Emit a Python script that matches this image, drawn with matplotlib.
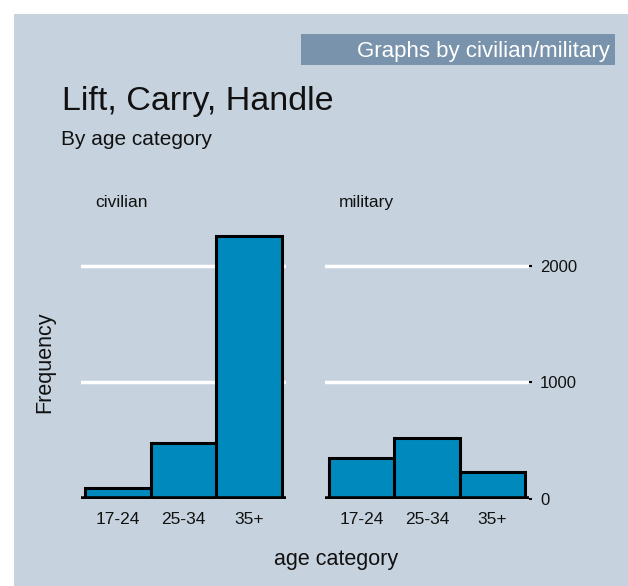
import matplotlib
matplotlib.use("Agg")
import matplotlib.pyplot as plt
from matplotlib.patches import Rectangle

categories = ["17-24", "25-34", "35+"]
civilian = [90, 480, 2255]
military = [350, 520, 235]
panels = ["civilian", "military"]
yticks = [0, 1000, 2000]

W, H = 628, 586
bg = "#C6D3DF"
bar_color = "#0089BD"
plt.rcParams['font.family'] = ['Liberation Sans', 'DejaVu Sans']

fig = plt.figure(figsize=(W / 100, H / 100), dpi=100)
fig.patch.set_facecolor("white")
fig.add_artist(Rectangle((14 / W, 0), 1 - 14 / W, 1 - 14 / H, transform=fig.transFigure,
                         facecolor=bg, edgecolor="none", zorder=0))
fig.add_artist(Rectangle((301 / W, 1 - 65 / H), 314 / W, 31 / H, transform=fig.transFigure,
                         facecolor="#7A93AC", edgecolor="none", zorder=1))
fig.text(610 / W, 1 - 57 / H, "Graphs by civilian/military", ha="right", va="baseline",
         color="white", fontsize=16)
fig.text(62 / W, 1 - 110 / H, "Lift, Carry, Handle", ha="left", va="baseline",
         fontsize=24.5, color="#111111")
fig.text(61 / W, 1 - 145 / H, "By age category", ha="left", va="baseline",
         fontsize=15, color="#111111")
fig.text(45 / W, 1 - 362 / H, "Frequency", ha="center", va="center", rotation=90,
         fontsize=15.5, color="#111111")
fig.text(336 / W, 1 - 559 / H, "age category", ha="center", va="center",
         fontsize=15.5, color="#111111")

ymax = 2400
y0 = 499
pxu = 0.1167
top = y0 - ymax * pxu
boxes = [(81, 286), (325, 529)]
for i, (name, vals) in enumerate(zip(panels, [civilian, military])):
    l, r = boxes[i]
    ax = fig.add_axes([l / W, 1 - y0 / H, (r - l) / W, (y0 - top) / H])
    ax.set_facecolor("none")
    x = list(range(len(categories)))
    for yt in yticks[1:]:
        ax.axhline(yt, color="white", lw=2.5, zorder=1)
    ax.bar(x, vals, width=1.0, color=bar_color, edgecolor="black", linewidth=2.2, zorder=2)
    ax.axhline(0, color="black", lw=4, zorder=3)
    ax.set_xlim(-0.56, 2.56)
    ax.set_ylim(0, ymax)
    for s in ax.spines.values():
        s.set_visible(False)
    ax.set_xticks(x)
    ax.set_xticklabels(categories, fontsize=12.5, color="#111111")
    ax.tick_params(axis="x", direction="in", length=4, width=1.5, pad=9, color="black")
    if i == 1:
        ax.yaxis.tick_right()
        ax.set_yticks(yticks)
        ax.set_yticklabels([str(v) for v in yticks], fontsize=12, color="#111111")
        ax.tick_params(axis="y", length=2, width=1.5, pad=6, color="black")
    else:
        ax.set_yticks([])
    fig.text((l + 14) / W, 1 - 203 / H, name, ha="left", va="center", fontsize=12.5,
             color="#111111")

fig.savefig("out.png", dpi=100, facecolor=fig.get_facecolor())
